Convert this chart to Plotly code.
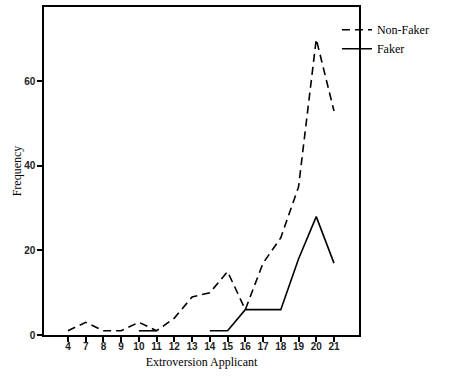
import plotly.graph_objects as go

categories = ["4", "7", "8", "9", "10", "11", "12", "13", "14", "15", "16", "17", "18", "19", "20", "21"]
non_faker = [1, 3, 1, 1, 3, 1, 4, 9, 10, 15, 6, 17, 23, 35, 70, 53]
faker = [None, None, None, None, 1, 1, None, None, 1, 1, 6, 6, 6, 18, 28, 17]
y_ticks = [0, 20, 40, 60]

idx = list(range(len(categories)))

fig = go.Figure()
fig.add_trace(go.Scatter(x=idx, y=non_faker, mode="lines", name="Non-Faker",
                         line=dict(color="black", width=1.6, dash="8px,5px"),
                         connectgaps=False))
fig.add_trace(go.Scatter(x=idx, y=faker, mode="lines", name="Faker",
                         line=dict(color="black", width=1.6),
                         connectgaps=False))

fig.update_layout(
    width=474, height=379,
    margin=dict(l=44, r=115, t=5, b=44),
    paper_bgcolor="white", plot_bgcolor="white",
    showlegend=True,
    legend=dict(x=0.93, y=0.975, xanchor="left", yanchor="top",
                font=dict(family="Liberation Serif, Times New Roman, serif", size=12, color="black"),
                bgcolor="rgba(0,0,0,0)", itemwidth=30, tracegroupgap=0,
                traceorder="normal"),
)
fig.update_xaxes(
    range=[-1.35, 16.41], tickmode="array", tickvals=idx, ticktext=categories,
    showgrid=False, zeroline=False, showline=True, linecolor="black", linewidth=1.5,
    mirror=True, ticks="outside", ticklen=5, tickwidth=1.5, tickcolor="black",
    ticklabelstandoff=-4,
    tickfont=dict(family="Liberation Sans, Arial, sans-serif", size=10, color="#222", weight="bold"),
    title=dict(text="Extroversion Applicant", standoff=7,
               font=dict(family="Liberation Serif, Times New Roman, serif", size=12, color="black")),
)
fig.update_yaxes(
    range=[0, 77.6], tickmode="array", tickvals=y_ticks,
    showgrid=False, zeroline=False, showline=True, linecolor="black", linewidth=1.5,
    mirror=True, ticks="outside", ticklen=5, tickwidth=1.5, tickcolor="black",
    tickfont=dict(family="Liberation Sans, Arial, sans-serif", size=10, color="#222", weight="bold"),
    title=dict(text="Frequency", standoff=0,
               font=dict(family="Liberation Serif, Times New Roman, serif", size=12, color="black")),
)

fig.write_html("out.html")
